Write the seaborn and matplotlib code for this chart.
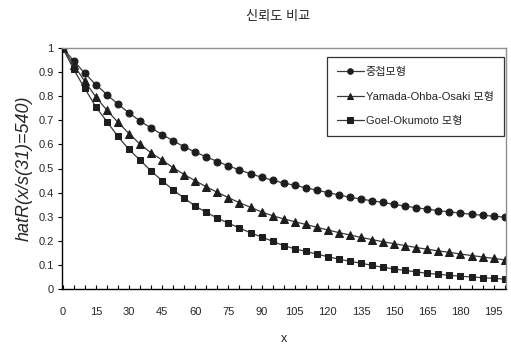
import numpy as np
import pandas as pd
import matplotlib
matplotlib.use("Agg")
import matplotlib.pyplot as plt
import seaborn as sns
from matplotlib.ticker import MultipleLocator, FixedLocator, FuncFormatter

# ---- data ----
x_vals = list(range(0, 201, 5))
series_names = ["중첩모형", "Yamada-Ohba-Osaki 모형", "Goel-Okumoto 모형"]
overlap = [1.000, 0.947, 0.895, 0.848, 0.807, 0.767, 0.731, 0.697, 0.668, 0.641,
           0.615, 0.590, 0.568, 0.548, 0.529, 0.511, 0.494, 0.478, 0.464, 0.451,
           0.440, 0.430, 0.420, 0.410, 0.400, 0.390, 0.381, 0.373, 0.366, 0.359,
           0.351, 0.344, 0.337, 0.331, 0.325, 0.320, 0.315, 0.310, 0.306, 0.302,
           0.298]
yamada = [1.000, 0.930, 0.862, 0.797, 0.742, 0.692, 0.645, 0.601, 0.565, 0.535,
          0.503, 0.475, 0.449, 0.424, 0.401, 0.379, 0.358, 0.339, 0.320, 0.304,
          0.291, 0.279, 0.268, 0.256, 0.245, 0.234, 0.224, 0.214, 0.205, 0.196,
          0.188, 0.180, 0.172, 0.165, 0.158, 0.152, 0.145, 0.139, 0.133, 0.127,
          0.121]
goel = [1.000, 0.911, 0.832, 0.756, 0.695, 0.633, 0.579, 0.535, 0.490, 0.449,
        0.411, 0.377, 0.344, 0.318, 0.294, 0.273, 0.253, 0.233, 0.216, 0.198,
        0.180, 0.167, 0.156, 0.145, 0.134, 0.124, 0.115, 0.107, 0.098, 0.090,
        0.083, 0.077, 0.071, 0.065, 0.061, 0.057, 0.053, 0.050, 0.047, 0.044,
        0.041]
x_tick_labels = list(range(0, 200, 15))
y_ticks = [0, 0.1, 0.2, 0.3, 0.4, 0.5, 0.6, 0.7, 0.8, 0.9, 1]

sns.set_theme(style="white")
plt.rcParams['font.family'] = ['Liberation Sans', 'Noto Sans CJK KR', 'DejaVu Sans']

fig = plt.figure(figsize=(5.11, 3.47), dpi=100)
W, H = 511, 347
ax = fig.add_axes([62 / W, 1 - 289 / H, (506 - 62) / W, (289 - 48) / H])

markers = ["o", "^", "s"]
msizes = [5.0, 5.6, 5.0]
for name, vals, mk, ms in zip(series_names, [overlap, yamada, goel], markers, msizes):
    sns.lineplot(x=x_vals, y=vals, ax=ax, color="#3a3a3a", linewidth=0.9,
                 marker=mk, markersize=ms, markerfacecolor="#1e1e1e",
                 markeredgecolor="#1e1e1e", label=name)

ax.set_xlim(-0.3, 200.6)
ax.set_ylim(0, 1)

ax.xaxis.set_major_locator(FixedLocator(x_tick_labels))
ax.xaxis.set_minor_locator(MultipleLocator(5))
ax.set_yticks(y_ticks)
ax.yaxis.set_major_formatter(FuncFormatter(lambda v, p: f"{v:g}"))
ax.tick_params(axis="x", which="both", direction="in", length=3, width=0.8,
               color="black", labelsize=8, pad=13, bottom=True)
ax.tick_params(axis="y", direction="out", length=3, width=0.8, color="black",
               labelsize=8, pad=3, left=True)

for s in ["left", "bottom"]:
    ax.spines[s].set_color("black")
    ax.spines[s].set_linewidth(1.0)
for s in ["top", "right"]:
    ax.spines[s].set_color("#909090")
    ax.spines[s].set_linewidth(1.0)

ax.set_xlabel("")
fig.text(284 / W, 1 - 339 / H, "x", ha="center", va="center", fontsize=9)
ax.set_ylabel("hatR(x/s(31)=540)", fontsize=13, style="italic", labelpad=4)
fig.text(278 / W, 1 - 17 / H, "신뢰도 비교", ha="center", va="center", fontsize=9.5)

leg = ax.legend(loc="upper left", bbox_to_anchor=((327 - 62) / (506 - 62), 1 - (57 - 48) / (289 - 48)),
                frameon=True, fancybox=False, fontsize=8, handlelength=2.4,
                borderpad=0.9, labelspacing=1.3, handletextpad=0.2, borderaxespad=0,
                markerscale=0.8)
leg.get_frame().set_edgecolor("black")
leg.get_frame().set_linewidth(0.9)

fig.savefig("out.png", dpi=100, facecolor="white")
